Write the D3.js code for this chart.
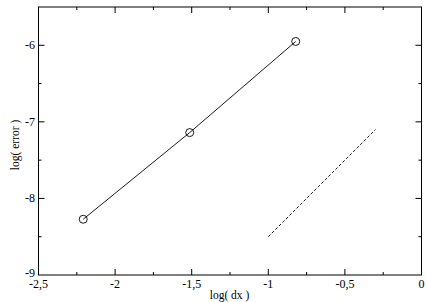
<!DOCTYPE html>
<html><head><meta charset="utf-8">
<script src="https://cdn.jsdelivr.net/npm/d3@7"></script>
<style>body{margin:0;background:#fff}text{font-family:"Liberation Serif","Times New Roman",serif}</style>
</head><body>
<svg id="c" width="427" height="302"></svg>
<script>
const dataX = [-2.208, -1.513, -0.821];
const dataY = [-8.272, -7.14, -5.95];
const refX = [-1, -0.3];
const refY = [-8.5, -7.1];
const xMajor = [-2.5, -2, -1.5, -1, -0.5, 0];
const xMinor = [-2.25, -1.75, -1.25, -0.75, -0.25];
const yMajor = [-9, -8, -7, -6];
const yMinor = [-8.5, -7.5, -6.5, -5.5];
const xLabel = "log( dx )", yLabel = "log( error )";

const svg = d3.select("#c");
const L = 38.5, R = 421.5, T = 7, B = 275;
const x = d3.scaleLinear().domain([-2.5, 0]).range([L, R]);
const y = d3.scaleLinear().domain([-9, -5.5]).range([B, T]);
const fmt = d => String(d).replace(".", ",");

svg.append("rect").attr("x", L).attr("y", T).attr("width", R - L).attr("height", B - T)
  .attr("fill", "none").attr("stroke", "#000").attr("stroke-width", 1);

const g = svg.append("g").attr("stroke", "#000").attr("stroke-width", 1);
function ticksX(vals, len) {
  vals.forEach(v => {
    g.append("line").attr("x1", x(v)).attr("x2", x(v)).attr("y1", B).attr("y2", B - len);
    g.append("line").attr("x1", x(v)).attr("x2", x(v)).attr("y1", T).attr("y2", T + len);
  });
}
function ticksY(vals, len) {
  vals.forEach(v => {
    g.append("line").attr("y1", y(v)).attr("y2", y(v)).attr("x1", L).attr("x2", L + len);
    g.append("line").attr("y1", y(v)).attr("y2", y(v)).attr("x1", R).attr("x2", R - len);
  });
}
ticksX(xMajor.filter(v => v > -2.5 && v < 0), 6);
ticksX(xMinor, 3);
ticksY(yMajor.filter(v => v > -9), 6);
ticksY(yMinor.filter(v => v < -5.5), 3);

svg.selectAll(".xt").data(xMajor).enter().append("text")
  .attr("x", d => x(d)).attr("y", 288).attr("text-anchor", "middle")
  .attr("font-size", 12).text(fmt);
svg.selectAll(".yt").data(yMajor).enter().append("text")
  .attr("x", 35).attr("y", d => y(d) + (d === -9 ? 2 : 4)).attr("text-anchor", "end")
  .attr("font-size", 12).text(fmt);

svg.append("text").attr("x", (L + R) / 2 - 0.5).attr("y", 299).attr("text-anchor", "middle")
  .attr("font-size", 11.5).text(xLabel);
svg.append("text").attr("transform", `translate(19,${(T + B) / 2 + 4}) rotate(-90)`)
  .attr("text-anchor", "middle").attr("font-size", 11.5).text(yLabel);

const pts = dataX.map((d, i) => [d, dataY[i]]);
const line = d3.line().x(d => x(d[0])).y(d => y(d[1]));
svg.append("path").attr("d", line(pts)).attr("fill", "none").attr("stroke", "#000").attr("stroke-width", 0.9);
svg.selectAll(".pt").data(pts).enter().append("circle")
  .attr("cx", d => x(d[0])).attr("cy", d => y(d[1])).attr("r", 4)
  .attr("fill", "none").attr("stroke", "#000").attr("stroke-width", 0.9);

const ref = refX.map((d, i) => [d, refY[i]]);
svg.append("path").attr("d", line(ref)).attr("fill", "none").attr("stroke", "#000")
  .attr("stroke-width", 0.9).attr("stroke-dasharray", "3,2");
</script>
</body></html>
